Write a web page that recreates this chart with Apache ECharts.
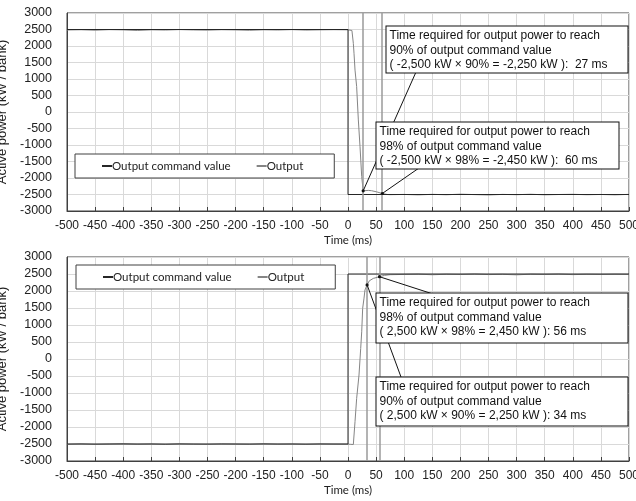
<!DOCTYPE html>
<html>
<head>
<meta charset="utf-8">
<script src="https://cdn.jsdelivr.net/npm/echarts@6/dist/echarts.min.js"></script>
<style>
  html, body { margin: 0; padding: 0; background: #fff; }
  #main { width: 636px; height: 501px; }
</style>
</head>
<body>
<div id="main"></div>
<script>
// ---- data ----
const legendNames = ['Output command value', 'Output'];

// command values: step at t = 0
const topCmdT = [-500, 0, 0, 500];
const topCmdV = [2500, 2500, -2500, -2500];
const botCmdT = [-500, 0, 0, 500];
const botCmdV = [-2500, -2500, 2500, 2500];

// measured output, top chart (2500 -> -2500)
const topOutT = [-500, -475, -450, -425, -400, -375, -350, -325, -300, -275, -250, -225, -200, -175, -150, -125, -100, -75, -50, -25,
  0, 3, 7, 9.5, 10.7, 12.5, 15.4, 18.4, 21.4, 24.4, 27, 30, 36, 42, 51, 61, 70,
  75, 100, 125, 150, 175, 200, 225, 250, 275, 300, 325, 350, 375, 400, 425, 450, 475, 500];
const topOutV = [2485, 2492, 2478, 2495, 2488, 2470, 2490, 2483, 2497, 2486, 2480, 2493, 2487, 2475, 2491, 2484, 2496, 2482, 2489, 2494,
  2490, 2488, 2470, 2080, 1780, 1270, 770, -240, -1050, -1960, -2390, -2400, -2375, -2385, -2420, -2470, -2500,
  -2505, -2498, -2512, -2495, -2508, -2490, -2503, -2515, -2497, -2506, -2492, -2510, -2500, -2494, -2507, -2499, -2511, -2496];

// measured output, bottom chart (-2500 -> 2500)
const botOutT = [-500, -475, -450, -425, -400, -375, -350, -325, -300, -275, -250, -225, -200, -175, -150, -125, -100, -75, -50, -25,
  0, 5, 9.5, 12.5, 15.4, 19.6, 22.6, 24.4, 26.1, 28.5, 30.2, 34, 38, 45, 56, 65, 75,
  100, 125, 150, 175, 200, 225, 250, 275, 300, 325, 350, 375, 400, 425, 450, 475, 500];
const botOutV = [-2508, -2495, -2512, -2500, -2490, -2506, -2498, -2515, -2493, -2504, -2510, -2496, -2502, -2509, -2491, -2505, -2499, -2513, -2497, -2503,
  -2505, -2510, -2515, -1840, -1160, -470, 310, 800, 1490, 1790, 2030, 2180, 2300, 2370, 2420, 2460, 2480,
  2488, 2495, 2478, 2492, 2485, 2498, 2483, 2490, 2476, 2494, 2487, 2497, 2482, 2491, 2486, 2493, 2489];

// marked response times
const topMarkT = [27, 60];
const botMarkT = [34, 56];

// annotation targets on the curve
const topPts = [[27, -2390], [61, -2470]];
const botPts = [[56, 2420], [34, 2180]];

const topNotes = [
  ['Time required for output power to reach', '90% of output command value', '( -2,500 kW \u00d7 90% = -2,250 kW ):  27 ms'],
  ['Time required for output power to reach', '98% of output command value', '( -2,500 kW \u00d7 98% = -2,450 kW ):  60 ms']
];
const botNotes = [
  ['Time required for output power to reach', '98% of output command value', '( 2,500 kW \u00d7 98% = 2,450 kW ): 56 ms'],
  ['Time required for output power to reach', '90% of output command value', '( 2,500 kW \u00d7 90% = 2,250 kW ): 34 ms']
];

const pairs = (t, v) => t.map((x, i) => [x, v[i]]);

const chart = echarts.init(document.getElementById('main'));

const labelFont = "'Liberation Sans', Arial, sans-serif";

const makeX = (gridIndex) => ({
  type: 'value', gridIndex, min: -500, max: 500, interval: 50,
  name: 'Time (ms)', nameLocation: 'middle', nameGap: 23,
  nameTextStyle: { fontFamily: 'Lato', fontSize: 11.5, color: '#222' },
  axisLine: { show: true, onZero: false, lineStyle: { color: '#404040', width: 1 } },
  axisTick: { show: true, inside: true, length: 4, lineStyle: { color: '#404040' } },
  axisLabel: { interval: 0, margin: 9, fontFamily: "'Liberation Sans Narrow', 'Liberation Sans', Arial", fontSize: 12, color: '#222',
    formatter: v => String(v) },
  splitLine: { show: true, lineStyle: { color: '#d9d9d9', width: 1 } }
});

const makeY = (gridIndex) => ({
  type: 'value', gridIndex, min: -3000, max: 3000, interval: 500,
  name: 'Active power (kW / bank)', nameLocation: 'middle', nameGap: 33,
  nameTextStyle: { fontFamily: labelFont, fontSize: 13, color: '#222' },
  axisLine: { show: true, onZero: false, lineStyle: { color: '#404040', width: 1 } },
  axisTick: { show: false },
  axisLabel: { margin: 15, fontFamily: labelFont, fontSize: 12.5, color: '#222', formatter: v => String(v) },
  splitLine: { show: true, lineStyle: { color: '#d9d9d9', width: 1 } }
});

const vLines = (ts) => ({
  silent: true, symbol: 'none', label: { show: false },
  lineStyle: { color: '#9a9a9a', width: 1.5, type: 'solid' },
  data: ts.map(t => ({ xAxis: t }))
});

const makeLegend = (left, top) => ({
  data: legendNames, left, top,
  orient: 'horizontal',
  backgroundColor: '#fff', borderColor: '#404040', borderWidth: 1,
  padding: [6, 31, 6, 27], itemGap: 26,
  icon: 'rect', itemWidth: 10, itemHeight: 2,
  textStyle: { fontFamily: 'Lato', fontSize: 11.5, color: '#222', padding: [0, 0, 0, -5] },
  selectedMode: false
});

const option = {
  animation: false,
  backgroundColor: '#fff',
  grid: [
    { left: 67, top: 13, width: 562, height: 198, outerBoundsMode: 'none', containLabel: false,
      show: true, borderColor: '#404040', borderWidth: 1 },
    { left: 67, top: 257, width: 562, height: 204, outerBoundsMode: 'none', containLabel: false,
      show: true, borderColor: '#404040', borderWidth: 1 }
  ],
  legend: [makeLegend(75, 154), makeLegend(76, 265)],
  xAxis: [makeX(0), makeX(1)],
  yAxis: [makeY(0), makeY(1)],
  series: [
    { name: 'Output', type: 'line', xAxisIndex: 0, yAxisIndex: 0, showSymbol: false,
      lineStyle: { color: '#858585', width: 1 }, itemStyle: { color: '#858585' },
      data: pairs(topOutT, topOutV), markLine: vLines(topMarkT) },
    { name: 'Output command value', type: 'line', xAxisIndex: 0, yAxisIndex: 0, showSymbol: false,
      lineStyle: { color: '#262626', width: 1 }, itemStyle: { color: '#262626' },
      data: pairs(topCmdT, topCmdV) },
    { name: 'Output', type: 'line', xAxisIndex: 1, yAxisIndex: 1, showSymbol: false,
      lineStyle: { color: '#858585', width: 1 }, itemStyle: { color: '#858585' },
      data: pairs(botOutT, botOutV), markLine: vLines(botMarkT) },
    { name: 'Output command value', type: 'line', xAxisIndex: 1, yAxisIndex: 1, showSymbol: false,
      lineStyle: { color: '#262626', width: 1 }, itemStyle: { color: '#262626' },
      data: pairs(botCmdT, botCmdV) }
  ]
};

chart.setOption(option);

// ---- annotation boxes with leader lines to the curve ----
// box drawn as the text's own background and border
function noteBox(x, y, w, h, lines) {
  return {
    type: 'text', z: 110, x: x + 0.5, y: y + 0.5,
    style: {
      text: lines.join('\n'), font: "12px 'Liberation Sans', Arial", fill: '#111', lineHeight: 14.5,
      backgroundColor: '#ffffff', borderColor: '#111111', borderWidth: 1,
      padding: [2, 3, 2, 3], width: w - 6, height: h - 4
    }
  };
}

function leader(x1, y1, gridIndex, pt) {
  const p = chart.convertToPixel({ gridIndex }, pt);
  return [
    { type: 'line', z: 100, shape: { x1, y1, x2: p[0], y2: p[1] }, style: { stroke: '#111', lineWidth: 1 } },
    { type: 'circle', z: 100, shape: { cx: p[0], cy: p[1], r: 1.6 }, style: { fill: '#111' } }
  ];
}

const graphics = [].concat(
  leader(416, 72, 0, topPts[0]),
  leader(419, 168, 0, topPts[1]),
  leader(433, 294, 1, botPts[0]),
  leader(401, 377, 1, botPts[1]),
  [
    noteBox(386, 26, 241, 46, topNotes[0]),
    noteBox(376, 122, 242, 46, topNotes[1]),
    noteBox(376, 293, 251, 49, botNotes[0]),
    noteBox(376, 377, 251, 48, botNotes[1])
  ]
);

chart.setOption({ graphic: graphics });
</script>
</body>
</html>
